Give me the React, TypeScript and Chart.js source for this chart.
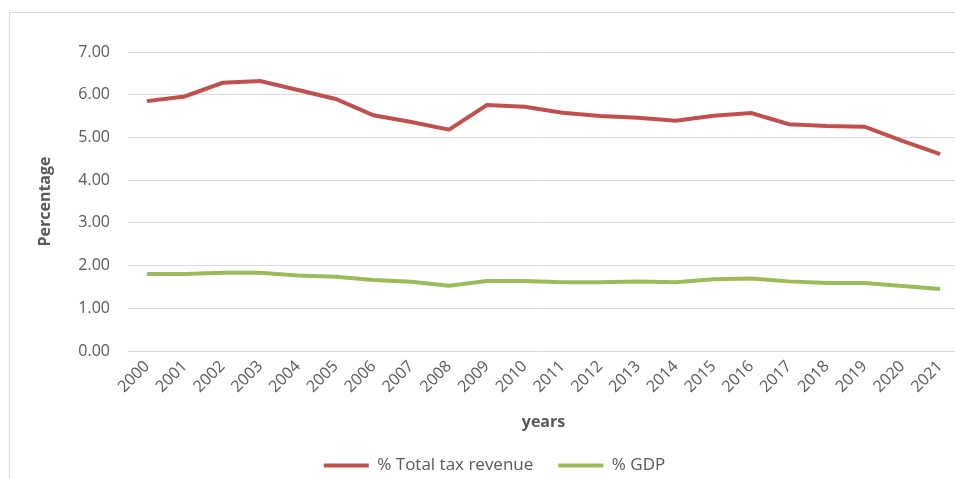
import React, { useEffect, useRef } from "react";
import { Chart, registerables } from "chart.js";

Chart.register(...registerables);

const years = ["2000","2001","2002","2003","2004","2005","2006","2007","2008","2009","2010","2011","2012","2013","2014","2015","2016","2017","2018","2019","2020","2021"];
const totalTaxRevenue = [5.85,5.96,6.28,6.32,6.11,5.90,5.52,5.36,5.18,5.76,5.72,5.58,5.50,5.46,5.39,5.51,5.57,5.31,5.27,5.25,4.92,4.61];
const gdpShare = [1.80,1.80,1.83,1.83,1.77,1.74,1.66,1.62,1.53,1.64,1.64,1.61,1.61,1.63,1.61,1.68,1.70,1.63,1.59,1.59,1.52,1.45];
const seriesNames = ["% Total tax revenue", "% GDP"];
const seriesColors = ["#C0504D", "#9BBB59"];

const FONT = "'Open Sans', 'Liberation Sans', sans-serif";
const TEXT = "#595959";

export default function App() {
  const ref = useRef<HTMLCanvasElement | null>(null);
  useEffect(() => {
    if (!ref.current) return;
    const legendShift = {
      id: "legendShift",
      beforeDraw(chart: any) {
        const lg = chart.legend;
        if (lg && !lg._shifted) {
          lg.left += 15;
          lg.right += 15;
          lg._shifted = true;
        }
      },
    };
    const chart = new Chart(ref.current, {
      type: "line",
      data: {
        labels: years,
        datasets: [
          { label: seriesNames[0], data: totalTaxRevenue, borderColor: seriesColors[0], backgroundColor: seriesColors[0], borderWidth: 4, pointRadius: 0, tension: 0 },
          { label: seriesNames[1], data: gdpShare, borderColor: seriesColors[1], backgroundColor: seriesColors[1], borderWidth: 4, pointRadius: 0, tension: 0 },
        ],
      },
      options: {
        animation: false,
        responsive: false,
        maintainAspectRatio: false,
        layout: { padding: { top: 52, right: 6, left: 0, bottom: 0 } },
        plugins: {
          tooltip: { enabled: false },
          legend: {
            position: "bottom",
            labels: {
              usePointStyle: true,
              pointStyle: "line",
              pointStyleWidth: 45,
              padding: 25,
              color: TEXT,
              font: { family: FONT, size: 17 },
            },
          },
        },
        scales: {
          x: {
            offset: true,
            grid: { display: false, drawTicks: false },
            border: { display: false },
            ticks: { color: TEXT, font: { family: FONT, size: 16 }, minRotation: 45, maxRotation: 45, padding: 6 },
            title: { display: true, text: "years", color: TEXT, font: { family: FONT, size: 16, weight: "bold" }, padding: { top: 0, bottom: 0 } },
            afterFit(scale: any) { scale.height = 81; },
          },
          y: {
            min: 0,
            max: 7,
            grid: { color: "#d9d9d9", lineWidth: 1, drawTicks: false },
            border: { display: false },
            ticks: { stepSize: 1, color: TEXT, font: { family: FONT, size: 16 }, padding: 18, callback: (v: any) => Number(v).toFixed(2) },
            title: { display: true, text: "Percentage", color: TEXT, font: { family: FONT, size: 16, weight: "bold" }, padding: { top: 36, bottom: 0 } },
            afterFit(scale: any) { scale.width = 128; },
          },
        },
      },
      plugins: [legendShift],
    });
    return () => chart.destroy();
  }, []);
  return (
    <div style={{ position: "fixed", left: 0, top: 0, width: 955, height: 479, overflow: "hidden", background: "#fff" }}>
      <div style={{ position: "absolute", left: 9, top: 12, width: 1000, height: 1000, border: "1px solid #d9d9d9", boxSizing: "border-box" }} />
      <canvas ref={ref} width={965} height={484} style={{ position: "absolute", left: 0, top: 0, width: 965, height: 484 }} />
    </div>
  );
}
